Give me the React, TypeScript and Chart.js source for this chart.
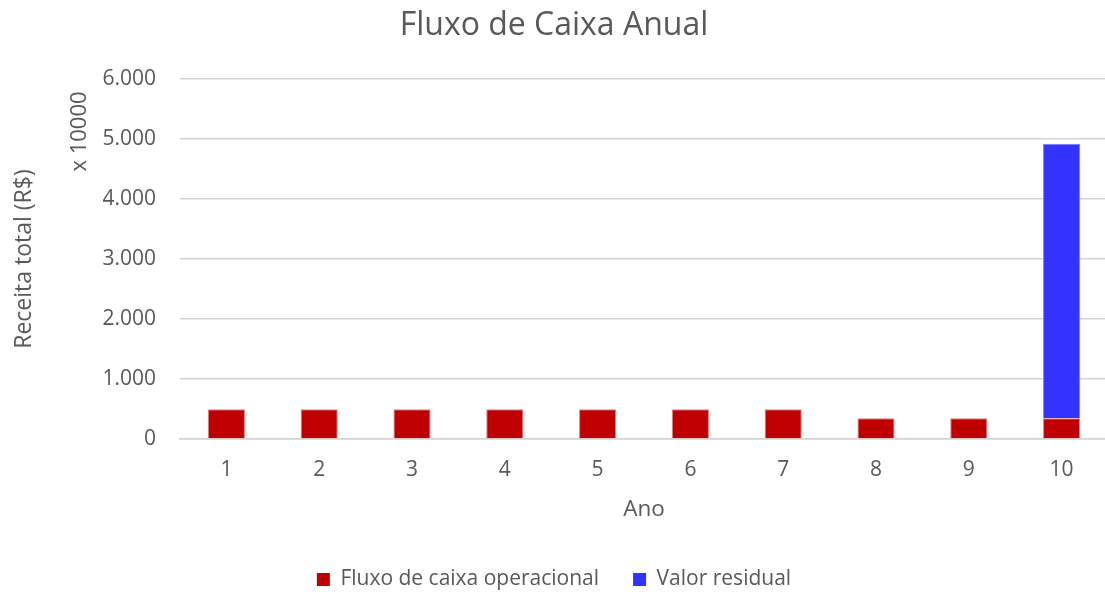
import React, { useEffect, useRef } from "react";
import { Chart, registerables } from "chart.js";

Chart.register(...registerables);

const anos = ["1", "2", "3", "4", "5", "6", "7", "8", "9", "10"];
const fluxoOperacional = [495, 495, 495, 495, 495, 495, 495, 345, 345, 345];
const valorResidual = [null, null, null, null, null, null, null, null, null, 4575];
const yMin = 0;
const yMax = 6000;
const yStep = 1000;

const FONT = "'Open Sans', 'Noto Sans', sans-serif";
const TEXT = "#595959";

function fmt(v: number): string {
  const s = Math.round(v).toString();
  return s.replace(/\B(?=(\d{3})+(?!\d))/g, ".");
}

const unitLabel = {
  id: "unitLabel",
  afterDraw(chart: any) {
    const { ctx, chartArea } = chart;
    ctx.save();
    ctx.translate(chartArea.left - 100, chartArea.top + 52.5);
    ctx.rotate(-Math.PI / 2);
    ctx.font = `22px ${FONT}`;
    ctx.fillStyle = TEXT;
    ctx.textAlign = "center";
    ctx.textBaseline = "middle";
    ctx.fillText("x 10000", 0, 0);
    ctx.restore();
  },
};

export default function App() {
  const ref = useRef<HTMLCanvasElement | null>(null);

  useEffect(() => {
    if (!ref.current) return;
    const chart = new Chart(ref.current, {
      type: "bar",
      data: {
        labels: anos,
        datasets: [
          {
            label: "Fluxo de caixa operacional",
            data: fluxoOperacional,
            backgroundColor: "#C00000",
            borderColor: "#E57E80",
            borderWidth: 1,
            barPercentage: 0.4,
            categoryPercentage: 1,
          },
          {
            label: "Valor residual",
            data: valorResidual as any,
            backgroundColor: "#3333FF",
            borderColor: "#7A7AFF",
            borderWidth: 1,
            barPercentage: 0.4,
            categoryPercentage: 1,
          },
        ],
      },
      options: {
        animation: false,
        responsive: true,
        maintainAspectRatio: false,
        layout: { padding: { left: 0, right: 2, top: 0, bottom: 0 } },
        plugins: {
          title: {
            display: true,
            text: "Fluxo de Caixa Anual",
            color: TEXT,
            font: { family: FONT, size: 32, weight: "normal" },
            padding: { top: 7, bottom: 33.6 },
          },
          legend: {
            position: "bottom",
            labels: {
              color: TEXT,
              font: { family: FONT, size: 21 },
              boxWidth: 13,
              boxHeight: 13,
              padding: 34,
              generateLabels(chart: any) {
                return chart.data.datasets.map((ds: any, i: number) => ({
                  text: ds.label,
                  fillStyle: ds.backgroundColor,
                  strokeStyle: ds.backgroundColor,
                  lineWidth: 0,
                  fontColor: TEXT,
                  datasetIndex: i,
                  hidden: false,
                }));
              },
            },
          },
          tooltip: { enabled: false },
        },
        scales: {
          x: {
            stacked: true,
            grid: { display: false, drawTicks: false },
            border: { display: true, color: "#D4D4D4", width: 1.5 },
            ticks: { color: TEXT, font: { family: FONT, size: 21 }, padding: 18 },
            title: {
              display: true,
              text: "Ano",
              color: TEXT,
              font: { family: FONT, size: 22.5 },
              padding: { top: 10, bottom: 12 },
            },
            afterFit(scale: any) {
              scale.height = 96;
            },
          },
          y: {
            stacked: true,
            min: yMin,
            max: yMax,
            grid: { color: "#D4D4D4", lineWidth: 1.5, drawTicks: false },
            border: { display: false },
            ticks: {
              stepSize: yStep,
              color: TEXT,
              font: { family: FONT, size: 21 },
              padding: 24,
              callback: (v: any) => fmt(Number(v)),
            },
            title: {
              display: true,
              text: "Receita total (R$)",
              color: TEXT,
              font: { family: FONT, size: 23 },
              padding: { top: 11, bottom: 0 },
            },
            afterFit(scale: any) {
              scale.width = 180;
            },
          },
        },
      },
      plugins: [unitLabel],
    });
    return () => chart.destroy();
  }, []);

  return (
    <div style={{ position: "fixed", left: 0, top: 0, width: 1110, height: 600, background: "#fff" }}>
      <canvas ref={ref} />
    </div>
  );
}
